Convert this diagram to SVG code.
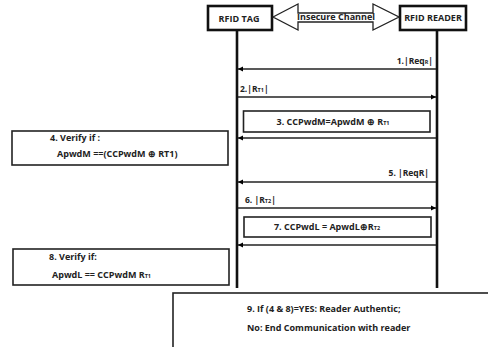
<svg xmlns="http://www.w3.org/2000/svg" width="488" height="347" viewBox="0 0 488 347">
<defs>
<marker id="ah" markerWidth="6" markerHeight="6" refX="5" refY="3" orient="auto" markerUnits="userSpaceOnUse">
<path d="M0,0.5 L5,3 L0,5.5 Z" fill="#000"/>
</marker>
<style>
text{font-family:"Open Sans","Liberation Sans",sans-serif;font-weight:bold;fill:#222;font-size:9px}
.lbl{font-size:8.5px}
.box{fill:#fff;stroke:#222;stroke-width:1.6}
.hdr{fill:#fff;stroke:#111;stroke-width:2.6}
.life{stroke:#111;stroke-width:2.6}
.msg{stroke:#222;stroke-width:1.4;fill:none;marker-end:url(#ah)}
.sub{font-size:5.5px}
</style>
</defs>
<rect width="488" height="347" fill="#fff"/>
<g id="lifelines">
<line class="life" x1="237" y1="30" x2="237" y2="288"/>
<line class="life" x1="437" y1="30" x2="437" y2="288"/>
</g>
<g id="tag"><rect class="hdr" x="208" y="6" width="64" height="24"/><text x="239" y="21.5" text-anchor="middle" font-size="8.3">RFID TAG</text></g>
<g id="reader"><rect class="hdr" x="400" y="6" width="66" height="24"/><text x="433" y="21" text-anchor="middle" font-size="8.8">RFID READER</text></g>
<g id="channel"><path d="M273,17 L298,4 L298,13 L373,13 L373,4 L399,17 L373,30 L373,22 L298,22 L298,30 Z" fill="#fff" stroke="#222" stroke-width="1.3"/><text x="336" y="19.5" text-anchor="middle" font-size="5.7">Insecure Channel</text></g>
<g id="connectors">
<line class="msg" x1="436" y1="69" x2="238" y2="69"/>
<line class="msg" x1="238" y1="97" x2="436" y2="97"/>
<line class="msg" x1="436" y1="138" x2="238" y2="138"/>
<line class="msg" x1="436" y1="182" x2="238" y2="182"/>
<line class="msg" x1="238" y1="208" x2="436" y2="208"/>
<line class="msg" x1="436" y1="245" x2="238" y2="245"/>
</g>
<g id="m1"><text class="lbl" x="433" y="64" text-anchor="end">1.|Req<tspan class="sub">R</tspan>|</text></g>
<g id="m2"><text class="lbl" x="240" y="92">2.|R<tspan class="sub">T1</tspan>|</text></g>
<g id="s3"><rect class="box" x="243.5" y="111" width="186.5" height="21"/><text x="333" y="125" text-anchor="middle">3. CCPwdM=ApwdM ⊕ R<tspan class="sub">T1</tspan></text></g>
<g id="s4"><rect class="box" x="12" y="131" width="216" height="34"/><text x="50" y="141">4. Verify if :</text><text x="57" y="157">ApwdM ==(CCPwdM ⊕  RT1)</text></g>
<g id="m5"><text class="lbl" x="429" y="176" text-anchor="end">5. |ReqR|</text></g>
<g id="m6"><text class="lbl" x="245" y="203">6. |R<tspan class="sub">T2</tspan>|</text></g>
<g id="s7"><rect class="box" x="244" y="217" width="187" height="20"/><text x="327" y="230" text-anchor="middle">7. CCPwdL = ApwdL⊕R<tspan class="sub">T2</tspan></text></g>
<g id="s8"><rect class="box" x="13" y="249" width="216" height="36"/><text x="49" y="260">8. Verify if:</text><text x="52" y="278">ApwdL == CCPwdM R<tspan class="sub">T1</tspan></text></g>
<g id="s9"><rect class="box" x="173" y="293" width="320" height="60"/><text x="247" y="312">9. If (4 &amp; 8)=YES: Reader Authentic;</text><text x="247" y="331">No: End Communication with reader</text></g>
</svg>
